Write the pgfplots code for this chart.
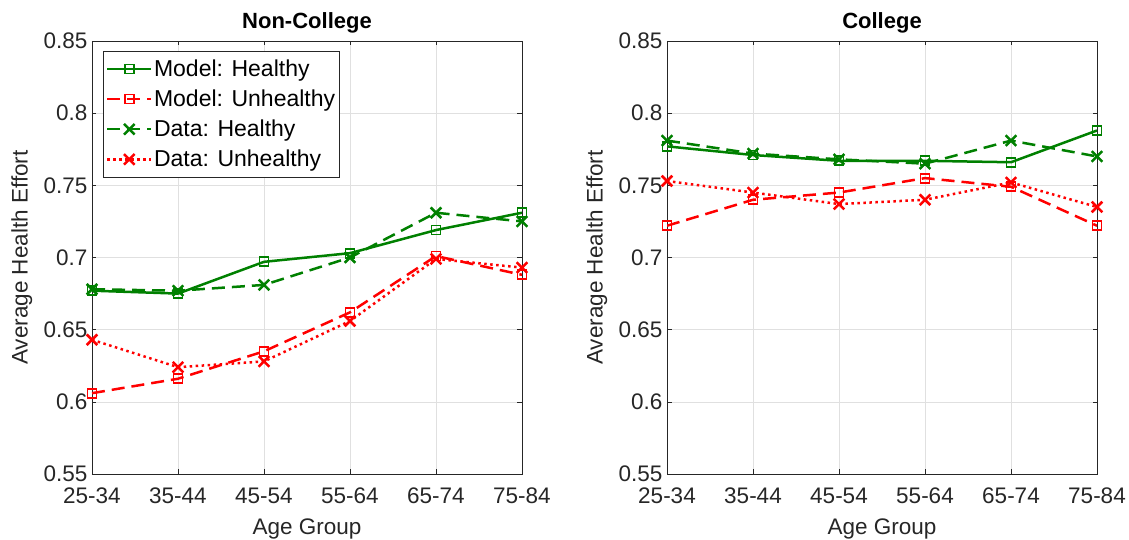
\documentclass[border=0pt]{standalone}
\usepackage{fontspec}
\setmainfont{Liberation Sans}
\usepackage{pgfplots}
\pgfplotsset{compat=1.18}
\definecolor{mgreen}{rgb}{0,0.5,0}
\definecolor{axgray}{rgb}{0.15,0.15,0.15}
\pgfplotsset{
 myax/.style={
  width=430pt, height=433pt, scale only axis,
  xmin=0, xmax=5, ymin=0.55, ymax=0.85,
  xtick={0,1,2,3,4,5}, xticklabels={25-34,35-44,45-54,55-64,65-74,75-84},
  ytick={0.55,0.6,0.65,0.7,0.75,0.8,0.85},
  yticklabels={0.55,0.6,0.65,0.7,0.75,0.8,0.85},
  grid=major, major grid style={black!12, line width=0.6pt},
  tick align=inside, major tick length=4.5pt,
  axis line style={axgray, line width=0.6pt},
  tick style={axgray, line width=0.6pt},
  ticklabel style={font=\fontsize{22.5}{26}\selectfont, text=axgray},
  xticklabel style={yshift=-10pt},
  yticklabel style={xshift=-1pt},
  label style={font=\fontsize{22.5}{26}\selectfont, text=axgray},
  title style={font=\bfseries\fontsize{22}{26}\selectfont, yshift=-2pt},
  xlabel={Age Group}, ylabel={Average Health Effort},
  xlabel style={at={(axis description cs:0.5,-0.128)}, anchor=center},
  ylabel style={at={(axis description cs:-0.163,0.5)}, anchor=center},
  every axis plot/.append style={line width=2.5pt},
  legend image code/.code={\draw[mark repeat=2,mark phase=2,##1] plot coordinates {(0pt,0pt) (22pt,0pt) (44pt,0pt)};},
 },
 mh/.style={mgreen, solid, mark=square, mark size=4.5pt, mark options={solid, line width=1.8pt}},
 mu/.style={red, dash pattern=on 13pt off 7pt, mark=square, mark size=4.5pt, mark options={solid, line width=1.8pt}},
 dh/.style={mgreen, dash pattern=on 13pt off 7pt, mark=x, mark size=7.5pt, mark options={solid, line width=2.5pt}},
 du/.style={red, dash pattern=on 2.5pt off 3.5pt, mark=x, mark size=7.5pt, mark options={solid, line width=2.5pt}},
}
\begin{document}
\begin{tikzpicture}
\begin{axis}[myax, at={(0pt,0pt)}, title={Non-College},
  legend style={at={(0.025,0.978)}, anchor=north west, draw=axgray, line width=0.6pt,
    font=\fontsize{23}{26}\selectfont, text=black, inner xsep=3pt, inner ysep=7.5pt, row sep=9pt,
    nodes={inner sep=1.5pt}},
  legend cell align=left]
\addplot[mh] coordinates {(0,0.677) (1,0.675) (2,0.697) (3,0.703) (4,0.719) (5,0.731)};
\addlegendentry{Model: Healthy}
\addplot[mu] coordinates {(0,0.606) (1,0.616) (2,0.635) (3,0.662) (4,0.701) (5,0.688)};
\addlegendentry{Model: Unhealthy}
\addplot[dh] coordinates {(0,0.678) (1,0.677) (2,0.681) (3,0.700) (4,0.731) (5,0.725)};
\addlegendentry{Data: Healthy}
\addplot[du] coordinates {(0,0.643) (1,0.624) (2,0.628) (3,0.656) (4,0.699) (5,0.693)};
\addlegendentry{Data: Unhealthy}
\end{axis}
\begin{axis}[myax, at={(575pt,0pt)}, title={College}]
\addplot[mh] coordinates {(0,0.777) (1,0.771) (2,0.767) (3,0.767) (4,0.766) (5,0.788)};
\addplot[mu] coordinates {(0,0.722) (1,0.740) (2,0.745) (3,0.755) (4,0.749) (5,0.722)};
\addplot[dh] coordinates {(0,0.781) (1,0.772) (2,0.768) (3,0.765) (4,0.781) (5,0.770)};
\addplot[du] coordinates {(0,0.753) (1,0.745) (2,0.737) (3,0.740) (4,0.752) (5,0.735)};
\end{axis}
\pgfresetboundingbox
\useasboundingbox (-92pt,-66pt) rectangle (1037pt,474pt);
\end{tikzpicture}
\end{document}
